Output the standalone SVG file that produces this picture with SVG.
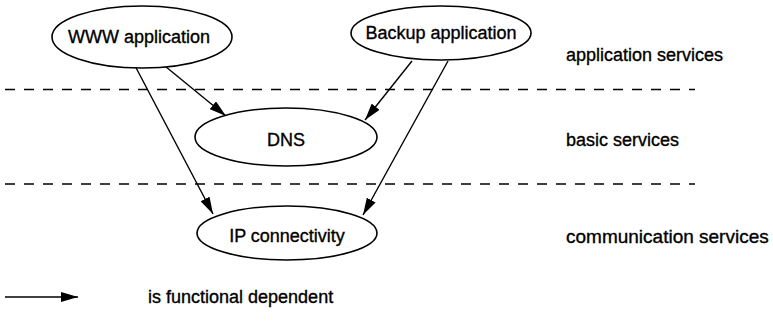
<svg xmlns="http://www.w3.org/2000/svg" width="773" height="322" viewBox="0 0 773 322">
<style>
text{font-family:"Liberation Sans",Arial,sans-serif;font-size:18px;fill:#000;stroke:#000;stroke-width:0.35}
.node ellipse{fill:#fff;stroke:#000;stroke-width:1.6}
.node text{text-anchor:middle}
.dash{stroke:#000;stroke-width:1.4;stroke-dasharray:10 9;fill:none}
.conn{stroke:#000;stroke-width:1.4;fill:none;marker-end:url(#ah)}
</style>
<defs>
<marker id="ah" viewBox="0 0 17 10" refX="17" refY="5" markerWidth="17" markerHeight="10" markerUnits="userSpaceOnUse" orient="auto">
<path d="M0,0 L17,5 L0,10 z" fill="#000"/>
</marker>
</defs>
<rect width="773" height="322" fill="#fff" stroke="none"/>
<g id="layers">
<line class="dash" x1="5" y1="89.5" x2="695" y2="89.5"/>
<line class="dash" x1="5" y1="184" x2="695" y2="184"/>
<text x="566" y="61">application services</text>
<text x="566" y="146">basic services</text>
<text x="566" y="243" style="font-size:19px">communication services</text>
</g>
<g id="connectors">
<line class="conn" x1="160" y1="62" x2="226" y2="116"/>
<line class="conn" x1="412" y1="61" x2="365" y2="120"/>
<line class="conn" x1="133" y1="62" x2="213" y2="214"/>
<line class="conn" x1="448" y1="61" x2="363" y2="215"/>
</g>
<g id="www" class="node">
<ellipse cx="142" cy="37" rx="90" ry="31"/>
<text x="139" y="43">WWW application</text>
</g>
<g id="backup" class="node">
<ellipse cx="441" cy="33" rx="90" ry="27"/>
<text x="441" y="39">Backup application</text>
</g>
<g id="dns" class="node">
<ellipse cx="286" cy="137" rx="91" ry="29"/>
<text x="286" y="146">DNS</text>
</g>
<g id="ip" class="node">
<ellipse cx="287" cy="233" rx="90" ry="27"/>
<text x="287" y="242">IP connectivity</text>
</g>
<g id="legend">
<line class="conn" x1="5" y1="297" x2="78" y2="297"/>
<text x="148" y="303">is functional dependent</text>
</g>
</svg>
